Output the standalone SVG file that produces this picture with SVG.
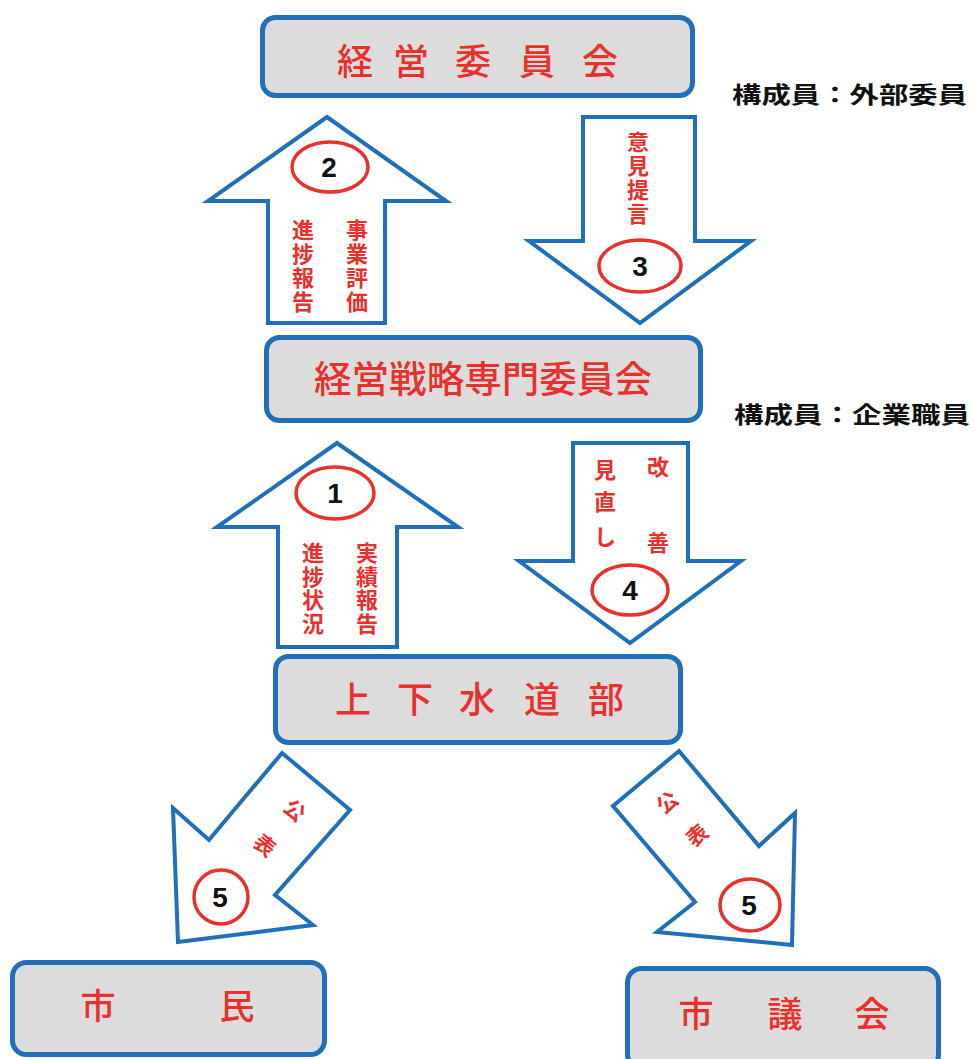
<svg xmlns="http://www.w3.org/2000/svg" width="973" height="1059" viewBox="0 0 973 1059">
<style>
.box{fill:#dcdcdc;stroke:#1f70b8;stroke-width:5}
.arr{fill:#ffffff;stroke:#1f70b8;stroke-width:4;stroke-linejoin:miter}
.ov{fill:#ffffff;stroke:#e8302c;stroke-width:3.5}
.bt{font-family:"Noto Sans CJK JP",sans-serif;font-weight:500;fill:#e8302c;text-anchor:middle}
.vt{font-family:"Noto Sans CJK JP",sans-serif;font-weight:700;fill:#e8302c;text-anchor:middle;font-size:22px}
.dt{font-family:"Noto Sans CJK JP",sans-serif;font-weight:700;fill:#e8302c;text-anchor:middle;font-size:21px}
.num{font-family:"Liberation Sans",Arial,sans-serif;font-weight:700;fill:#111;text-anchor:middle;font-size:28px}
.side{font-family:"Noto Sans CJK JP",sans-serif;font-weight:700;fill:#111;font-size:23px}
</style>
<rect width="973" height="1059" fill="#ffffff"/>
<g id="connectors">
  <g id="arrow2">
    <polygon class="arr" points="327,117 208,201 268,201 268,323 385,323 385,201 446,201"/>
    <ellipse class="ov" cx="330" cy="167" rx="38" ry="25"/>
    <text class="num" x="329" y="177">2</text>
    <text class="vt" x="303 303 303 303" y="238 262 286 310">進捗報告</text>
    <text class="vt" x="357 357 357 357" y="238 262 286 310">事業評価</text>
  </g>
  <g id="arrow3">
    <polygon class="arr" points="583,117 695,117 695,241 751,241 640,323 529,241 583,241"/>
    <ellipse class="ov" cx="640" cy="266" rx="41" ry="26"/>
    <text class="num" x="640" y="276">3</text>
    <text class="vt" x="638 638 638 638" y="150 174 198 222">意見提言</text>
  </g>
  <g id="arrow1">
    <polygon class="arr" points="337,443 217,527 278,527 278,647 397,647 397,527 458,527"/>
    <ellipse class="ov" cx="335" cy="493" rx="39" ry="26"/>
    <text class="num" x="335" y="503">1</text>
    <text class="vt" x="313 313 313 313" y="561 585 608 632">進捗状況</text>
    <text class="vt" x="367 367 367 367" y="561 585 608 632">実績報告</text>
  </g>
  <g id="arrow4">
    <polygon class="arr" points="573,443 688,443 688,561 741,561 630,643 519,561 573,561"/>
    <ellipse class="ov" cx="630" cy="590" rx="38" ry="25"/>
    <text class="num" x="630" y="600">4</text>
    <text class="vt" x="605 605 605" y="478 510 545">見直し</text>
    <text class="vt" x="658 658" y="475 551">改善</text>
  </g>
  <g id="arrow5a">
    <polygon class="arr" points="282,753 350,810 275,895 313,925 178,942 173,808 209,840"/>
    <circle class="ov" cx="221" cy="897" r="27"/>
    <text class="num" x="220" y="907">5</text>
    <text class="dt" transform="translate(295,810) rotate(40)" x="0" y="8">公</text>
    <text class="dt" transform="translate(265,845) rotate(40)" x="0" y="8">表</text>
  </g>
  <g id="arrow5b">
    <polygon class="arr" points="679,751 759,846 795,813 792,945 657,932 695,902 613,806"/>
    <ellipse class="ov" cx="750" cy="905" rx="30" ry="26"/>
    <text class="num" x="749" y="915">5</text>
    <text class="dt" transform="translate(667,802) rotate(-40)" x="0" y="8">公</text>
    <text class="dt" transform="translate(697,835) rotate(-40)" x="0" y="8">表</text>
  </g>
</g>
<g id="node-keiei">
  <rect class="box" x="262.5" y="17.5" width="430" height="78" rx="13"/>
  <text class="bt" style="font-size:36px" x="355 411 473 537 600" y="75">経営委員会</text>
</g>
<g id="node-senryaku">
  <rect class="box" x="266.5" y="337.5" width="434" height="83" rx="13"/>
  <text class="bt" style="font-size:37px" x="483" y="393" textLength="338" lengthAdjust="spacingAndGlyphs">経営戦略専門委員会</text>
</g>
<g id="node-suidou">
  <rect class="box" x="275.5" y="656.5" width="405" height="86" rx="13"/>
  <text class="bt" style="font-size:36px" x="353 415 477 542 606" y="713">上下水道部</text>
</g>
<g id="node-shimin">
  <rect class="box" x="12.5" y="962.5" width="312" height="92" rx="14"/>
  <text class="bt" style="font-size:35px" x="98 237" y="1019">市民</text>
</g>
<g id="node-gikai">
  <rect class="box" x="627.5" y="968.5" width="311" height="100" rx="14"/>
  <text class="bt" style="font-size:35px" x="696 785 872" y="1027">市議会</text>
</g>
<g id="labels">
  <text class="side" x="732" y="103" textLength="235" lengthAdjust="spacingAndGlyphs">構成員：外部委員</text>
  <text class="side" x="734" y="423" textLength="236" lengthAdjust="spacingAndGlyphs">構成員：企業職員</text>
</g>
</svg>
